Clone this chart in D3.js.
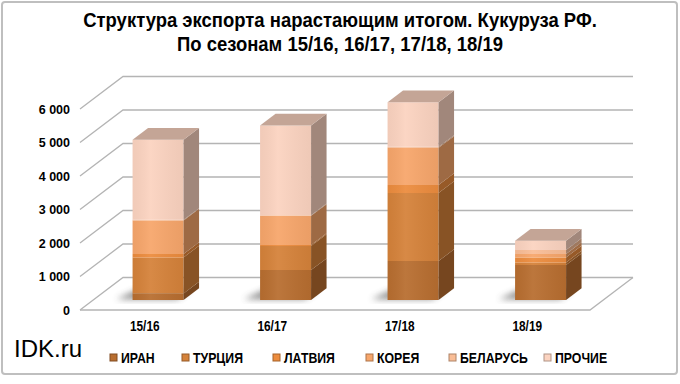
<!DOCTYPE html>
<html>
<head>
<meta charset="utf-8">
<script src="https://cdn.jsdelivr.net/npm/d3@7"></script>
<style>
  body { margin: 0; background: #fff; }
  svg { display: block; }
</style>
</head>
<body>
<svg id="chart" width="680" height="384"></svg>
<script>
// сезоны и страны
const seasons = ['15/16', '16/17', '17/18', '18/19'];
const countries = ['ИРАН', 'ТУРЦИЯ', 'ЛАТВИЯ', 'КОРЕЯ', 'БЕЛАРУСЬ', 'ПРОЧИЕ'];

// тыс. т, нарастающим итогом
const iran     = [190, 890, 1160, 1040];
const turkey   = [1080, 720, 2030, 80];
const latvia   = [100, 30, 240, 150];
const korea    = [1000, 870, 1110, 100];
const belarus  = [20, 20, 30, 120];
const other    = [2390, 2680, 1330, 280];

const yTicks = [0, 1000, 2000, 3000, 4000, 5000, 6000];

const colors = ['#b86e30', '#d5823a', '#ec8c3e', '#f7a66b', '#f9bd96', '#fbd3c0'];

const series = [iran, turkey, latvia, korea, belarus, other];

const svg = d3.select('#chart');
const W = 680, H = 384;

// Arial Narrow нет, сжимаем обычный шрифт по X
function narrowText(parent, tx, ty, txt, size, anchor, k) {
  return parent.append('text')
    .attr('transform', `translate(${tx},${ty}) scale(${k || 0.82},1)`)
    .attr('text-anchor', anchor || 'start')
    .style('font-family', '"Liberation Sans", Arial, sans-serif')
    .style('font-weight', 'bold')
    .style('font-size', size + 'px')
    .text(txt);
}

// рамка
svg.append('rect')
  .attr('x', 2).attr('y', 2).attr('width', W - 5).attr('height', 372)
  .attr('rx', 3)
  .attr('fill', '#fff').attr('stroke', '#bfbfbf').attr('stroke-width', 2);

// заголовок
narrowText(svg, 340, 27, 'Структура экспорта нарастающим итогом. Кукуруза РФ.', 21, 'middle', 0.88);
narrowText(svg, 340, 51, 'По сезонам 15/16, 16/17, 17/18, 18/19', 21, 'middle', 0.88);

// scales
const x = d3.scaleBand().domain(seasons).range([80, 590]).paddingInner(0).paddingOuter(0);
const y = d3.scaleLinear().domain([0, 6000]).range([310, 109]);

// глубина (косоугольная проекция)
const DX = 43, DY = 32.5;
function pt(px, v, z) { return [px + z * DX, y(v) - z * DY]; }

const defs = svg.append('defs');
const blur = defs.append('filter').attr('id', 'blur').attr('x', '-50%').attr('y', '-50%').attr('width', '200%').attr('height', '200%');
blur.append('feGaussianBlur').attr('stdDeviation', 3);

const frontGrad = defs.append('linearGradient').attr('id', 'frontGrad').attr('x1', 0).attr('x2', 1).attr('y1', 0).attr('y2', 0);
frontGrad.append('stop').attr('offset', '0%').attr('stop-color', '#000').attr('stop-opacity', 0.04);
frontGrad.append('stop').attr('offset', '35%').attr('stop-color', '#fff').attr('stop-opacity', 0.06);
frontGrad.append('stop').attr('offset', '100%').attr('stop-color', '#000').attr('stop-opacity', 0.05);

// сетка
const grid = svg.append('g').attr('stroke', '#b4b4b4').attr('stroke-width', 1.3).attr('fill', 'none');
yTicks.forEach(v => {
  const a = pt(x.range()[0], v, 0), b = pt(x.range()[0], v, 1), c = pt(x.range()[1], v, 1);
  grid.append('path').attr('d', d3.line()([a, b, c]));
});
// пол
{
  const a = pt(x.range()[0], 0, 0), b = pt(x.range()[1], 0, 0), c = pt(x.range()[1], 0, 1);
  grid.append('path').attr('d', d3.line()([a, b, c]));
}

// подписи оси Y
svg.append('g')
  .selectAll('text')
  .data(yTicks)
  .join('text')
  .attr('x', 70)
  .attr('y', d => y(d) + 4.5)
  .attr('text-anchor', 'end')
  .style('font-family', '"Liberation Sans", Arial, sans-serif')
  .style('font-weight', 'bold')
  .style('font-size', '12.5px')
  .text(d => d3.format(',')(d).replace(/,/g, ' '));

// подписи категорий
const catG = svg.append('g');
seasons.forEach(s => narrowText(catG, x(s) + x.bandwidth() / 2 + 1, 331, s, 14.5, 'middle'));

// стеки
const table = seasons.map((s, i) => {
  const row = { season: s };
  countries.forEach((c, j) => { row[c] = series[j][i]; });
  return row;
});
const stacked = d3.stack().keys(countries)(table);

const barW = x.bandwidth() * 0.4;
const z0 = 0.31, z1 = 0.67;

const bars = svg.append('g');

// тени
seasons.forEach(s => {
  const cx = x(s) + x.bandwidth() / 2 - barW / 2;
  const p = [pt(cx - 16, 0, z0 + 0.02), pt(cx + barW - 6, 0, z0 + 0.02), pt(cx + barW - 6, 0, z1 - 0.05), pt(cx - 8, 0, z1 - 0.05)];
  bars.append('path')
    .attr('d', d3.line()(p) + 'Z')
    .attr('fill', '#444')
    .attr('opacity', 0.6)
    .attr('filter', 'url(#blur)');
});

seasons.forEach((s, i) => {
  const left = x(s) + x.bandwidth() / 2 - barW / 2 + 1;
  const right = left + barW;
  const g = bars.append('g');
  stacked.forEach((layer, j) => {
    const [v0, v1] = layer[i];
    if (v1 - v0 <= 0) return;
    const col = d3.color(colors[j]);
    const side = d3.interpolateRgb(colors[j], '#000')(0.36);
    // передняя грань
    const front = [pt(left, v0, z0), pt(right, v0, z0), pt(right, v1, z0), pt(left, v1, z0)];
    g.append('path').attr('d', d3.line()(front) + 'Z').attr('fill', col.formatHex());
    g.append('path').attr('d', d3.line()(front) + 'Z').attr('fill', 'url(#frontGrad)');
    // боковая грань
    const sideP = [pt(right, v0, z0), pt(right, v0, z1), pt(right, v1, z1), pt(right, v1, z0)];
    g.append('path').attr('d', d3.line()(sideP) + 'Z').attr('fill', side);
  });
  // верх
  const top = stacked[stacked.length - 1][i][1];
  const topCol = d3.interpolateRgb(colors[colors.length - 1], '#000')(0.22);
  const topP = [pt(left, top, z0), pt(right, top, z0), pt(right, top, z1), pt(left, top, z1)];
  g.append('path').attr('d', d3.line()(topP) + 'Z').attr('fill', topCol);
});

// легенда
const legendX = [110, 182, 273, 366, 449, 544];
const legend = svg.append('g');
countries.forEach((c, j) => {
  const gx = legendX[j];
  legend.append('rect')
    .attr('x', gx).attr('y', 354).attr('width', 7).attr('height', 7)
    .attr('fill', colors[j])
    .attr('stroke', d3.interpolateRgb(colors[j], '#000')(0.3))
    .attr('stroke-width', 1);
  narrowText(legend, gx + 11, 363, c, 15);
});

// источник
svg.append('text')
  .attr('x', 14)
  .attr('y', 357)
  .style('font-family', '"Liberation Sans", Arial, sans-serif')
  .style('font-size', '24px')
  .text('IDK.ru');
</script>
</body>
</html>
